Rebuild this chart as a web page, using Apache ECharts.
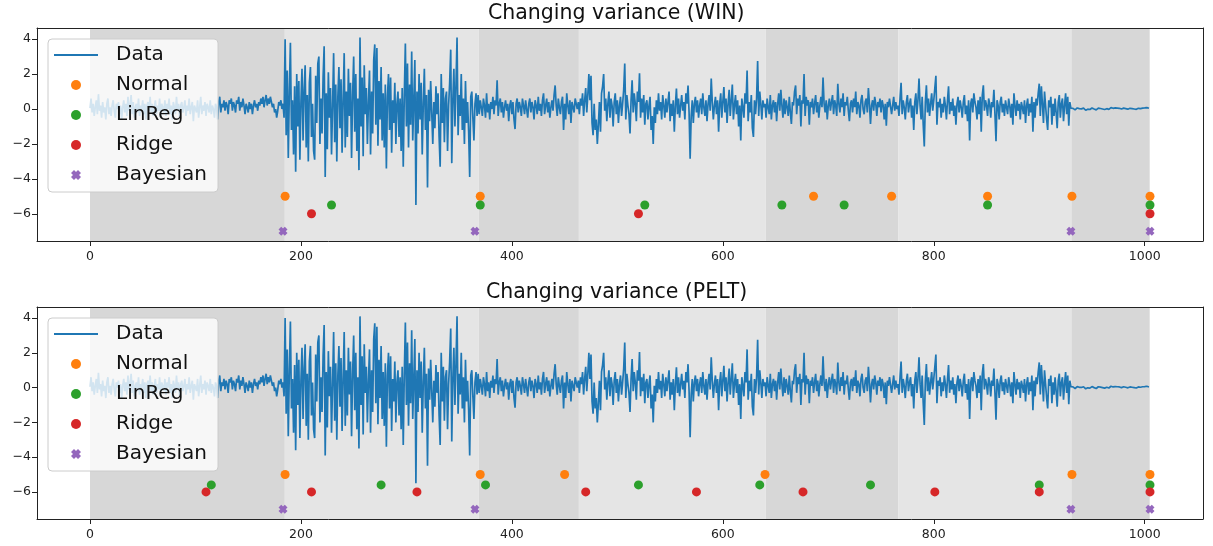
<!DOCTYPE html>
<html><head><meta charset="utf-8">
<script src="https://cdn.jsdelivr.net/npm/echarts@6/dist/echarts.min.js"></script>
<style>html,body{margin:0;padding:0;background:#fff}#c{width:1213px;height:546px}</style>
</head><body><div id="c"></div>
<script>
// ---- data ----
const segA = [
0.05,0.6,-0.2,0.3,-0.4,0.1,0.5,-0.3,0.85,-0.1,
0.2,-0.5,0.4,-0.2,0.1,-0.6,0.3,0.6,-0.3,0.1,
-0.4,0.2,0.5,-0.1,-0.5,0.3,0.0,0.4,-0.3,0.2,
-0.6,0.1,0.5,-0.2,0.3,-0.4,0.7,-0.1,0.2,0.8,
-0.3,0.4,-0.5,0.1,0.3,-0.2,0.6,-0.4,0.2,0.0,
0.5,-0.3,0.3,-0.6,0.2,0.4,-0.1,0.7,-0.2,0.3,
-0.4,0.1,0.5,-0.3,0.2,-0.1,0.6,-0.5,0.3,0.1,
-0.2,0.5,-0.4,0.3,0.0,0.6,-0.3,0.2,-0.6,0.4,
0.1,-0.3,0.7,-0.1,0.3,-0.5,0.2,0.4,-0.2,0.1,
0.5,-0.4,0.2,-0.1,0.6,-0.3,0.1,0.4,-0.7,0.2,
0.3,-0.2,0.5,-0.5,0.1,0.7,-0.3,0.2,-0.1,0.4,
-0.4,0.3,0.1,-0.2,0.5,-0.3,0.2,0.0,-0.5,0.3,
0.1,-0.6,0.4,0.7,-0.2,0.3,0.1,0.5,-0.1,0.4,
0.2,-0.3,0.5,0.3,0.6,-0.1,0.4,0.2,-0.2,0.5,
0.3,0.7,-0.1,0.4,0.1,0.6,0.2,-0.3,0.3,0.1,
-0.2,0.4,0.0,0.3,-0.3,0.2,0.5,0.1,0.3,-0.1,
0.4,0.2,0.6,0.3,0.7,0.1,0.5,0.8,0.2,0.6,
0.3,0.7,0.4,0.1,0.3,-0.2,0.0,-0.5,-0.1,0.4,
0.2,0.5,0.0,0.3];
const segB = [
-0.5,4.0,-1.5,2.2,-2.8,1.0,3.8,-1.2,0.5,-2.6,
1.3,-3.6,2.0,-1.0,1.6,-2.9,0.4,2.3,-1.8,1.1,
2.5,-2.2,0.8,-3.0,1.5,2.4,-1.6,0.3,-2.4,-2.9,
1.9,-0.8,2.6,3.0,-2.0,0.6,-1.4,1.8,3.6,-3.9,
0.9,-2.3,2.1,-0.5,1.2,-2.6,0.2,3.2,-1.9,1.4,
-3.0,0.7,2.4,-1.1,1.7,-2.5,0.5,3.2,-2.2,1.0,
-1.6,2.3,-0.4,1.5,-2.8,0.8,3.0,-1.3,2.0,-2.4,
0.6,-3.5,4.1,-1.0,1.8,-2.7,2.5,-0.3,1.2,-2.0,
0.4,2.2,-2.6,1.0,-1.4,2.8,3.7,-0.9,3.5,-2.1,
1.6,-0.6,2.4,-1.8,0.9,-2.2,1.4,-3.4,0.7,2.0,
-1.2,1.8,-2.5,0.5,-0.8,1.5,-2.0,0.3,1.0,-1.6,
0.6,-2.4,1.2,-3.3,0.8,3.75,-1.0,2.6,-2.2,1.4,
-0.9,3.3,-1.8,0.5,2.8,-5.5,1.0,-1.4,2.0,-0.6,
1.5,-2.6,0.3,2.3,-1.2,0.8,-4.5,1.1,-0.7,1.6,
1.6,-2.0,0.4,-1.1,1.3,-0.3,0.9,-1.6,-3.3,2.0,
-0.8,1.2,-1.9,0.6,1.0,-2.4,0.2,1.5,3.4,-3.1,
0.5,2.3,-1.0,1.4,4.1,-1.5,0.8,-0.4,2.0,-1.2,
0.6,-2.0,1.6,-0.8,0.4,-1.3,-3.9,0.7,1.0,-0.5,
-1.8,0.3,0.9,-0.4];
const segC = [
0.8,-0.3,0.5,0.1,-0.4,0.6,0.2,-0.5,0.9,-0.2,
0.3,-0.6,0.4,0.0,0.7,-0.3,0.5,0.2,1.65,-0.4,
0.3,0.6,-0.2,0.4,-0.5,0.1,0.5,-0.1,0.3,-0.7,
0.2,0.5,-0.3,0.4,-0.6,-1.15,0.3,0.6,-0.2,0.4,
0.1,-0.4,0.6,0.2,-0.3,0.5,0.0,-0.5,0.3,0.6,
-0.2,0.4,0.1,-0.6,0.5,0.2,-0.3,0.7,-0.1,0.3,
-0.4,0.5,0.9,-0.3,0.2,0.6,-0.2,0.4,-0.5,0.1,
0.5,-0.1,0.8,1.35,0.2,-0.4,0.6,0.1,-0.3,0.4,
0.7,-1.2,0.3,-0.6,0.9,0.2,-0.3,0.5,-0.8,0.4,
0.1,-0.2,0.6,0.3,0.0];
const segD = [
0.4,-0.3,0.6,0.2,0.9,-0.4,0.5,1.2,-0.2,0.8,
2.0,0.5,1.9,-0.8,-1.5,0.3,-1.2,-0.6,-2.0,-0.9,
0.4,-1.3,0.9,1.3,2.0,-0.1,0.6,-0.7,0.3,1.0,
-0.5,0.6,0.2,-1.0,0.4,0.9,-0.3,0.5,-0.8,0.2,
0.7,-0.4,0.3,1.1,2.6,-0.6,0.8,0.2,-0.3,-1.4,
0.5,1.65,-0.2,0.9,0.3,-0.7,1.0,0.4,2.05,-0.5,
0.6,-0.2,0.8,-0.9,0.3,0.5,-0.6,0.2,0.7,-1.2,
-0.4,-2.0,0.1,-0.8,0.5,-0.3,0.9,-0.1,0.4,-0.6,
0.8,0.2,-0.5,0.6,-0.2,0.4,1.0,-0.7,0.3,-0.4,
0.5,-1.3,0.2,1.17,-0.3,0.6,-0.5,0.2,0.8,-0.1,
0.4,-0.6,0.9,0.3,1.35,-0.2,-2.85,-0.4,0.5,-0.8,
0.3,0.7,-0.2,0.5,-0.5,0.2,0.6,-0.3,0.9,0.1,
-0.4,0.5,-0.7,0.3,0.8,-0.1,1.75,0.4,-0.6,0.2,
0.7,-0.3,0.5,-1.3,0.3,0.9,-0.5,0.4,1.26,-0.2,
0.6,-0.8,0.3,1.1,-0.4,0.5,1.4,-0.6,0.2,0.8,
-0.3,0.5,-1.0,0.2,-1.8,0.6,0.1,-0.5,0.9,0.3,
2.2,-0.7,0.4,-0.2,0.8,-1.1,-1.6,0.5,-0.3,0.6,
2.75,-0.4,1.0,0.3,-0.6,0.5,0.1];
const segE = [
0.3,-0.5,0.6,0.1,-0.3,0.8,-0.6,0.2,0.5,-0.2,
0.4,-0.7,0.3,0.9,-0.1,1.1,0.2,-0.5,0.6,-0.3,
0.5,0.1,-0.4,0.7,-0.2,-0.85,0.4,0.2,1.0,1.35,
-0.3,0.6,0.2,0.8,-1.0,0.5,0.3,2.0,-0.4,0.7,
0.2,0.5,-0.9,0.4,0.1,0.6,-0.3,0.3,0.8,-0.2,
0.4,-0.5,0.2,0.7,0.1,1.8,0.3,-0.2,0.5,-0.6,
0.2,0.6,-0.1,0.4,0.8,-0.3,0.5,0.2,-0.4,1.45,
0.3,-0.2,0.6,0.1,0.9,-0.4,0.4,0.2,0.7,-0.1,
-0.7,0.3,0.5,-0.2,0.6,0.1,1.0,-0.3,0.4,0.2,
-0.5,0.5,0.8,0.0,-0.3,0.4,0.6,-0.2,1.2,0.3,
-0.85,0.2,0.5,-0.1,0.7,0.3,-0.4,0.4,0.1,0.6,
-0.2,0.5,0.2,-0.6,0.3,-0.95,0.4,0.1,0.6,0.5,
-0.3,0.2,0.7,-0.1,0.4,0.0];
const segF = [
0.2,-0.4,0.6,1.5,-0.3,0.5,0.1,-0.6,0.4,0.8,
-0.2,0.3,0.6,-0.5,0.2,-1.2,0.4,0.9,-0.3,0.5,
1.75,0.2,-0.6,0.7,-0.9,-2.15,0.4,1.36,-0.2,0.6,
-0.4,0.3,0.9,-0.1,0.5,1.2,1.9,-0.9,0.4,0.1,
0.6,-0.5,0.3,-0.2,0.7,0.2,-0.6,0.5,1.3,-0.3,
0.4,-0.1,0.6,-0.4,0.2,-0.9,0.3,0.7,-0.2,0.5,
0.1,-0.5,0.4,0.8,-0.3,0.2,-0.7,0.5,-1.8,0.3,
0.6,-0.2,0.9,0.4,0.1,-0.6,0.5,-0.3,0.7,-1.3,
0.8,1.36,-0.1,0.5,0.2,-0.4,0.6,0.3,-0.5,0.4,
0.1,1.1,-0.3,-1.85,0.5,0.2,-0.6,0.4,0.7,-0.2,
0.3,-0.4,0.5,0.1,-0.3,0.6,0.2,-0.5,0.3,-0.9,
0.9,0.2,-0.4,0.5,-0.1,0.3,-0.6,0.4,0.1,-0.3,
0.5,-0.8,0.2,0.6,-0.4,0.3,-0.2,0.7,-1.3,0.4,
-0.5,0.6,0.2,0.9,1.45,-0.4,1.3,0.3,-0.8,1.0,
0.2,-0.6,-1.2,0.5,0.1,0.7,-0.9,0.3,-0.4,0.6,
-0.2,-1.1,0.4,0.8,-0.5,0.3,0.6,-0.7,0.2,0.9,
-0.3,0.7,-0.95,0.4];
const segG = [
0.05,-0.02,0.04,0.0,-0.05,0.03,0.06,-0.03,0.02,-0.06,
0.01,-0.04,0.05,0.02,-0.07,0.03,-0.01,0.04,-0.03,0.02,
0.06,-0.02,0.0,0.04,-0.05,0.02,0.05,-0.01,0.03,0.07,
0.0,0.04,-0.03,0.05,0.02,0.06,-0.02,0.03,0.08,0.01,
0.04,-0.01,0.06,0.02,0.05,-0.03,0.04,0.07,0.0,0.03,
0.05,-0.02,0.02,0.06,-0.01,0.03,0.04,-0.04,0.02,0.05,
0.0,0.03,-0.02,0.01,0.04,0.06,0.02,0.08,0.05,0.11,
0.06,0.03,0.08,0.05,0.04];
const signal = [].concat(segA, segB, segC, segD, segE, segF, segG);

const shadeBounds = [0, 184.7, 368.5, 463.5, 640.7, 766.2, 930.5, 1004.7];
const titles = ['Changing variance (WIN)', 'Changing variance (PELT)'];
const methodNames = ['Normal', 'LinReg', 'Ridge', 'Bayesian'];
const xTicks = [0, 200, 400, 600, 800, 1000];
const yTicks = [-6, -4, -2, 0, 2, 4];

const winNormal = [185, 370, 686, 760, 851, 931, 1005];
const winLinReg = [229, 370, 526, 656, 715, 851, 1005];
const winRidge = [210, 520, 1005];
const winBayesian = [183, 365, 930, 1005];
const winLevels = [-5, -5.5, -6, -7];

const peltNormal = [185, 370, 450, 640, 931, 1005];
const peltLinReg = [115, 276, 375, 520, 635, 740, 900, 1005];
const peltRidge = [110, 210, 310, 470, 575, 676, 801, 900, 1005];
const peltBayesian = [183, 365, 930, 1005];
const peltLevels = [-5, -5.6, -6, -7];

// ---- styling ----
const FONT = 'DejaVu Sans';
const methodColors = ['#ff7f0e', '#2ca02c', '#d62728', '#9467bd'];
const shadeColors = ['#d7d7d7', '#e5e5e5'];
const xPath = 'path://M3,0 L5,2 L7,0 L10,3 L8,5 L10,7 L7,10 L5,8 L3,10 L0,7 L2,5 L0,3 Z';
const linePath = 'path://M0,0 L44,0 L44,2 L0,2 Z';
const methodSymbols = ['circle', 'circle', 'circle', xPath];
const methodSizes = [9, 9, 9, 9];

const chart = echarts.init(document.getElementById('c'), null, {renderer: 'canvas'});

const grids = [
  {left: 37, top: 28, width: 1166, height: 213},
  {left: 37, top: 307, width: 1166, height: 212}
];
const legendTops = [39, 318];
const titleTops = [3, 282];
const titleLefts = [488, 486];

const fmt = v => (v < 0 ? '\u2212' + Math.abs(v) : String(v));

const xAxes = [], yAxes = [], series = [], legends = [], titleOpts = [];
const lineData = signal.map((v, i) => [i, v]);
const markAreaData = [];
for (let k = 0; k < shadeBounds.length - 1; k++) {
  markAreaData.push([{xAxis: shadeBounds[k], itemStyle: {color: shadeColors[k % 2]}}, {xAxis: shadeBounds[k + 1]}]);
}
const groups = [
  {pts: [winNormal, winLinReg, winRidge, winBayesian], lv: winLevels},
  {pts: [peltNormal, peltLinReg, peltRidge, peltBayesian], lv: peltLevels}
];

grids.forEach((g, gi) => {
  const axisLine = {show: true, onZero: false, lineStyle: {color: '#222', width: 1}};
  const lab = {fontSize: 12.5, fontFamily: FONT, color: '#222', formatter: fmt};
  xAxes.push({type: 'value', gridIndex: gi, min: -50.25, max: 1055.25, z: 10,
    axisLine, splitLine: {show: false},
    axisTick: {show: true, length: 5, lineStyle: {color: '#222'}, customValues: xTicks},
    axisLabel: Object.assign({customValues: xTicks, margin: 9}, lab)});
  xAxes.push({type: 'value', gridIndex: gi, position: 'top', min: -50.25, max: 1055.25, z: 10,
    axisLine, splitLine: {show: false}, axisTick: {show: false}, axisLabel: {show: false}});
  yAxes.push({type: 'value', gridIndex: gi, min: -7.56, max: 4.64, z: 10,
    axisLine, splitLine: {show: false},
    axisTick: {show: true, length: 5, lineStyle: {color: '#222'}, customValues: yTicks},
    axisLabel: Object.assign({customValues: yTicks, margin: 6}, lab)});
  yAxes.push({type: 'value', gridIndex: gi, position: 'right', min: -7.56, max: 4.64, z: 10,
    axisLine, splitLine: {show: false}, axisTick: {show: false}, axisLabel: {show: false}});

  series.push({
    name: 'Data', type: 'line', xAxisIndex: gi * 2, yAxisIndex: gi * 2,
    data: lineData, symbol: 'none', showSymbol: false, animation: false,
    lineStyle: {color: '#1f77b4', width: 1.7}, itemStyle: {color: '#1f77b4'},
    markArea: {silent: true, z: 1, data: markAreaData}
  });
  methodNames.forEach((m, mi) => {
    series.push({
      name: m, type: 'scatter', xAxisIndex: gi * 2, yAxisIndex: gi * 2,
      data: groups[gi].pts[mi].map(x => [x, groups[gi].lv[mi]]),
      symbol: methodSymbols[mi], symbolSize: methodSizes[mi], animation: false,
      itemStyle: {color: methodColors[mi], opacity: 1}, z: 3
    });
  });

  legends.push({
    orient: 'vertical', left: 48, top: legendTops[gi],
    padding: [6, 11, 7, 6], itemGap: 10, itemWidth: 44, itemHeight: 10,
    backgroundColor: 'rgba(255,255,255,0.8)', borderColor: '#cccccc', borderWidth: 1, borderRadius: 4,
    textStyle: {fontSize: 20, fontFamily: FONT, color: '#111', padding: [0, 0, 0, 13]},
    selectedMode: false, z: 20,
    data: [{name: 'Data', icon: linePath, itemStyle: {color: '#1f77b4'}}]
      .concat(methodNames.map((m, mi) => ({name: m, icon: methodSymbols[mi]})))
  });
  titleOpts.push({
    text: titles[gi], left: titleLefts[gi], top: titleTops[gi], padding: 0,
    textStyle: {fontSize: 20.5, fontWeight: 'normal', fontFamily: FONT, color: '#111'}
  });
});

chart.setOption({
  animation: false,
  backgroundColor: '#ffffff',
  title: titleOpts,
  grid: grids,
  xAxis: xAxes,
  yAxis: yAxes,
  legend: legends,
  series: series
});
</script>
</body></html>
